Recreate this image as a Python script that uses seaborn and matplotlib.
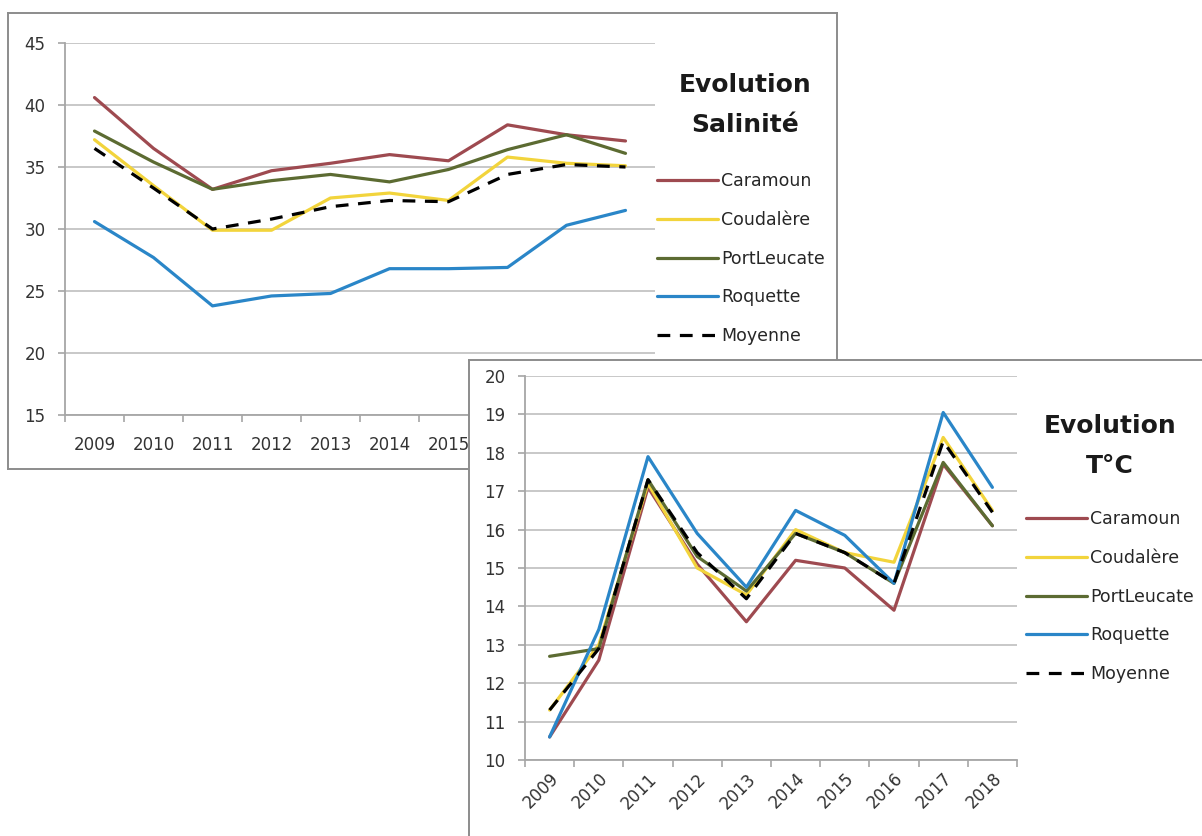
import matplotlib
matplotlib.use('Agg')
import numpy as np
import pandas as pd
import matplotlib.pyplot as plt
import seaborn as sns

# Données
annees = [2009, 2010, 2011, 2012, 2013, 2014, 2015, 2016, 2017, 2018]
sites = ['Caramoun', 'Coudalère', 'PortLeucate', 'Roquette', 'Moyenne']

# Salinité
sal_caramoun = [40.6, 36.5, 33.2, 34.7, 35.3, 36.0, 35.5, 38.4, 37.6, 37.1]
sal_coudalere = [37.2, 33.5, 29.9, 29.9, 32.5, 32.9, 32.3, 35.8, 35.3, 35.1]
sal_portleucate = [37.9, 35.4, 33.2, 33.9, 34.4, 33.8, 34.8, 36.4, 37.6, 36.1]
sal_roquette = [30.6, 27.7, 23.8, 24.6, 24.8, 26.8, 26.8, 26.9, 30.3, 31.5]
sal_moyenne = [36.5, 33.3, 30.0, 30.8, 31.8, 32.3, 32.2, 34.4, 35.2, 35.0]

# Température
temp_caramoun = [10.6, 12.6, 17.1, 15.1, 13.6, 15.2, 15.0, 13.9, 17.7, 16.1]
temp_coudalere = [11.3, 13.0, 17.2, 15.0, 14.3, 16.0, 15.4, 15.15, 18.4, 16.5]
temp_portleucate = [12.7, 12.9, 17.3, 15.3, 14.4, 15.9, 15.4, 14.6, 17.75, 16.1]
temp_roquette = [10.6, 13.4, 17.9, 15.9, 14.5, 16.5, 15.85, 14.6, 19.05, 17.1]
temp_moyenne = [11.3, 12.9, 17.3, 15.4, 14.2, 15.9, 15.4, 14.6, 18.3, 16.45]

couleurs = {'Caramoun': '#9E4A50', 'Coudalère': '#F2D43C',
            'PortLeucate': '#5C6B32', 'Roquette': '#2A86C8',
            'Moyenne': 'black'}
tirets = {'Caramoun': '', 'Coudalère': '', 'PortLeucate': '',
          'Roquette': '', 'Moyenne': (4, 3)}


def long_df(series):
    return pd.DataFrame({
        'annee': annees * len(sites),
        'site': np.repeat(sites, len(annees)),
        'valeur': np.concatenate(series),
    })


sal = long_df([sal_caramoun, sal_coudalere, sal_portleucate, sal_roquette, sal_moyenne])
temp = long_df([temp_caramoun, temp_coudalere, temp_portleucate, temp_roquette, temp_moyenne])

sns.set_style('white')
plt.rcParams['font.family'] = ['DejaVu Sans']

W, H = 1202, 836
fig = plt.figure(figsize=(W / 100, H / 100), dpi=100)


def fr(x0, y0, x1, y1):
    # rectangle en pixels -> coordonnées figure
    return [x0 / W, 1 - y1 / H, (x1 - x0) / W, (y1 - y0) / H]


def cadre(rect, z):
    fa = fig.add_axes(rect, zorder=z)
    fa.set_xticks([])
    fa.set_yticks([])
    fa.set_facecolor('white')
    for s in fa.spines.values():
        s.set_visible(True)
        s.set_color('#8C8C8C')
        s.set_linewidth(1.4)
    return fa


def graphe(ax, df, ymin, ymax, pas, titre, leg_xy, titre_xy, rot):
    sns.lineplot(data=df, x='annee', y='valeur', hue='site', style='site',
                 palette=couleurs, dashes=tirets, linewidth=2.3, ax=ax,
                 legend=True)
    ax.set_facecolor('none')
    ax.set_xlim(annees[0] - 0.5, annees[-1] + 0.5)
    ax.set_ylim(ymin, ymax)
    ax.set_yticks(np.arange(ymin, ymax + 0.1, pas))
    ax.set_yticklabels([str(int(v)) for v in np.arange(ymin, ymax + 0.1, pas)])
    ax.set_xticks(np.arange(annees[0] - 0.5, annees[-1] + 0.6, 1))
    ax.set_xticklabels([])
    ax.set_xticks(annees, minor=True)
    ax.set_xticklabels([str(a) for a in annees], minor=True,
                       rotation=rot, ha='right' if rot else 'center',
                       rotation_mode='anchor' if rot else 'default')
    ax.set_xlabel('')
    ax.set_ylabel('')
    ax.grid(axis='y', color='#C4C4C4', linewidth=1.3)
    ax.grid(axis='x', visible=False)
    for s in ['top', 'right']:
        ax.spines[s].set_visible(False)
    for s in ['left', 'bottom']:
        ax.spines[s].set_color('#A6A6A6')
        ax.spines[s].set_linewidth(1.3)
    ax.tick_params(axis='y', which='major', length=5, width=1.2, color='#A6A6A6',
                   direction='out', left=True, labelsize=12, labelcolor='#333333', pad=9)
    ax.tick_params(axis='x', which='major', length=5, width=1.2, color='#A6A6A6',
                   direction='out', bottom=True)
    ax.tick_params(axis='x', which='minor', length=0, labelsize=12,
                   labelcolor='#333333', pad=(7 if rot else 15))
    h, l = ax.get_legend_handles_labels()
    ax.legend(h, l, loc='upper left', bbox_to_anchor=leg_xy,
              bbox_transform=fig.transFigure, frameon=False, fontsize=12.5,
              handlelength=3.5, handletextpad=0.2, labelspacing=1.2,
              borderpad=0, borderaxespad=0, labelcolor='#262626')
    ax.text(titre_xy[0] / W, 1 - titre_xy[1] / H, 'Evolution',
            transform=fig.transFigure, ha='center', va='center',
            fontsize=18, fontweight='bold', color='#1A1A1A')
    ax.text(titre_xy[0] / W, 1 - (titre_xy[1] + 40) / H, titre,
            transform=fig.transFigure, ha='center', va='center',
            fontsize=18, fontweight='bold', color='#1A1A1A')


# Graphique 1 : salinité
cadre(fr(8, 13, 837, 469), 0)
ax1 = fig.add_axes(fr(65, 43, 655, 415), zorder=1)
graphe(ax1, sal, 15, 45, 5, 'Salinité', (657 / W, 1 - 172 / H), (745, 85), 0)

# Graphique 2 : température (par-dessus)
cadre(fr(469, 360, 1260, 900), 2)
ax2 = fig.add_axes(fr(525, 376, 1017, 760), zorder=3)
graphe(ax2, temp, 10, 20, 1, 'T°C', (1026 / W, 1 - 510 / H), (1110, 426), 45)

fig.savefig('out.png', dpi=100)
